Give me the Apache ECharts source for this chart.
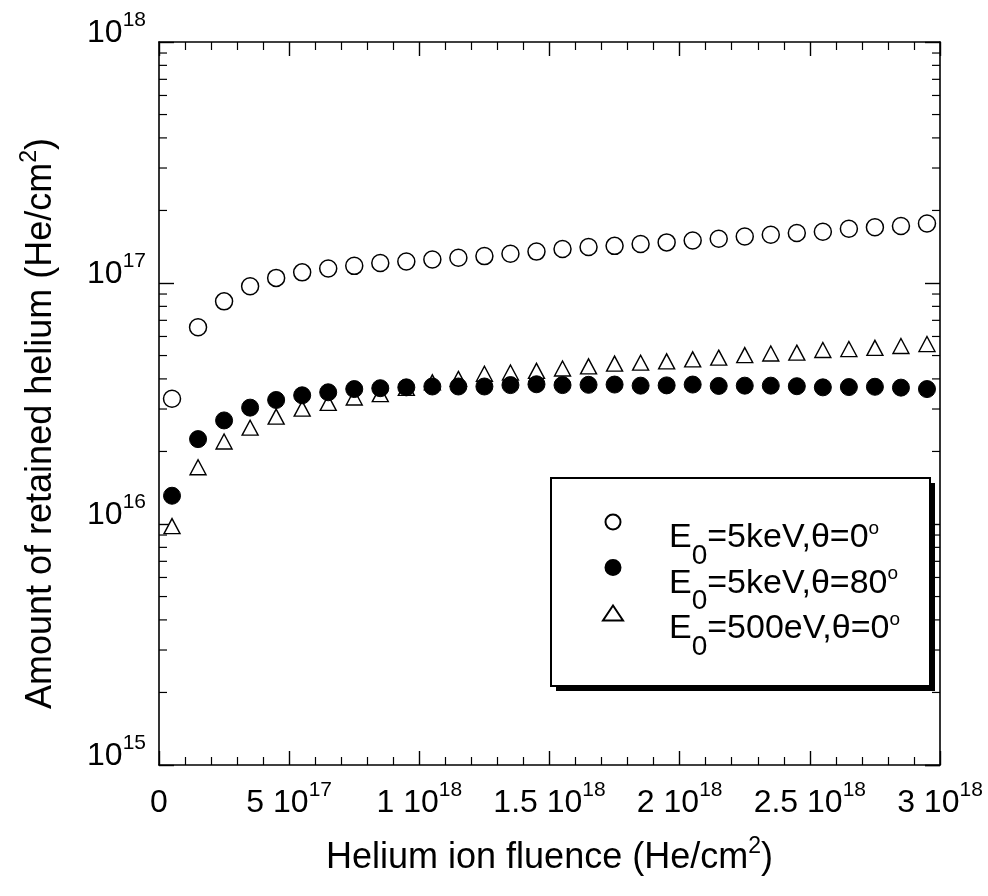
<!DOCTYPE html>
<html><head><meta charset="utf-8">
<script src="https://cdn.jsdelivr.net/npm/echarts@6/dist/echarts.min.js"></script>
<style>html,body{margin:0;padding:0;background:#fff}#c{width:988px;height:896px}</style>
</head><body><div id="c"></div>
<script>
// ---- data ----
const fluence = [5e16, 1.5e17, 2.5e17, 3.5e17, 4.5e17, 5.5e17, 6.5e17, 7.5e17, 8.5e17, 9.5e17,
  1.05e18, 1.15e18, 1.25e18, 1.35e18, 1.45e18, 1.55e18, 1.65e18, 1.75e18, 1.85e18, 1.95e18,
  2.05e18, 2.15e18, 2.25e18, 2.35e18, 2.45e18, 2.55e18, 2.65e18, 2.75e18, 2.85e18, 2.95e18];
const retained5keV0 = [3.31e16, 6.55e16, 8.39e16, 9.70e16, 1.05e17, 1.107e17, 1.149e17, 1.178e17, 1.21e17, 1.228e17,
  1.252e17, 1.273e17, 1.293e17, 1.322e17, 1.35e17, 1.383e17, 1.41e17, 1.426e17, 1.452e17, 1.474e17,
  1.50e17, 1.527e17, 1.56e17, 1.585e17, 1.613e17, 1.633e17, 1.678e17, 1.703e17, 1.724e17, 1.767e17];
const retained5keV80 = [1.31e16, 2.25e16, 2.69e16, 3.04e16, 3.27e16, 3.42e16, 3.52e16, 3.63e16, 3.66e16, 3.69e16,
  3.72e16, 3.72e16, 3.72e16, 3.77e16, 3.80e16, 3.77e16, 3.78e16, 3.79e16, 3.75e16, 3.76e16,
  3.79e16, 3.74e16, 3.75e16, 3.75e16, 3.73e16, 3.69e16, 3.70e16, 3.71e16, 3.68e16, 3.63e16];
const retained500eV0 = [0.98e16, 1.72e16, 2.20e16, 2.51e16, 2.79e16, 3.01e16, 3.18e16, 3.35e16, 3.46e16, 3.67e16,
  3.87e16, 4.00e16, 4.20e16, 4.25e16, 4.32e16, 4.42e16, 4.51e16, 4.63e16, 4.67e16, 4.73e16,
  4.82e16, 4.90e16, 5.02e16, 5.10e16, 5.14e16, 5.27e16, 5.32e16, 5.38e16, 5.48e16, 5.58e16];

const seriesNames = ['E0=5keV,θ=0°', 'E0=5keV,θ=80°', 'E0=500eV,θ=0°'];
const legendMain = ['=5keV,θ=0', '=5keV,θ=80', '=500eV,θ=0'];

const xTickValues = [0, 5e17, 1e18, 1.5e18, 2e18, 2.5e18, 3e18];
const xTickMantissa = ['0', '5 10', '1 10', '1.5 10', '2 10', '2.5 10', '3 10'];
const xTickExponent = ['', '17', '18', '18', '18', '18', '18'];
const yTickValues = [1e15, 1e16, 1e17, 1e18];
const yTickMantissa = ['10', '10', '10', '10'];
const yTickExponent = ['15', '16', '17', '18'];
// logarithmic minor ticks of the y axis (2..9 x 10^n)
const yMinorTicks = [2e15, 3e15, 4e15, 5e15, 6e15, 7e15, 8e15, 9e15,
  2e16, 3e16, 4e16, 5e16, 6e16, 7e16, 8e16, 9e16,
  2e17, 3e17, 4e17, 5e17, 6e17, 7e17, 8e17, 9e17];

const xName = 'Helium ion fluence (He/cm{s|2})';
const yName = 'Amount of retained helium (He/cm{s|2})';

// ---- helpers ----
const FONT = '"Liberation Sans", Arial, sans-serif';
function findIdx(arr, v) { return arr.findIndex(t => Math.abs(t - v) <= Math.abs(t) * 1e-6 + 1e-9); }
function pair(x, y) { return x.map((v, i) => [v, y[i]]); }

const chart = echarts.init(document.getElementById('c'), null, { renderer: 'canvas' });

const xLabel = {
  show: true, margin: 8, color: '#000', fontFamily: FONT,
  showMinLabel: true, showMaxLabel: true,
  formatter: v => { const i = findIdx(xTickValues, v); if (i < 0) return '';
    return xTickExponent[i] ? `{n|${xTickMantissa[i]}}{s|${xTickExponent[i]}}` : `{n|${xTickMantissa[i]}}`; },
  rich: {
    n: { fontSize: 32, fontFamily: FONT, color: '#000', padding: [14, 0, 0, 0] },
    s: { fontSize: 21, fontFamily: FONT, color: '#000', padding: [7, 0, 18, 0] }
  }
};
const yLabel = {
  show: true, margin: 13, color: '#000', fontFamily: FONT,
  showMinLabel: true, showMaxLabel: true,
  formatter: v => { const i = findIdx(yTickValues, v); if (i < 0) return '';
    return `{n|${yTickMantissa[i]}}{s|${yTickExponent[i]}}`; },
  rich: {
    n: { fontSize: 32, fontFamily: FONT, color: '#000', padding: [7, 0, 25, 0] },
    s: { fontSize: 21, fontFamily: FONT, color: '#000', padding: [0, 0, 43, 0] }
  }
};
const nameRich = {
  s: { fontSize: 23, fontFamily: FONT, color: '#000', padding: [0, 0, 24, 0] }
};
const axisLine = { show: true, onZero: false, lineStyle: { color: '#000', width: 1.6 } };

const xCommon = {
  type: 'value', min: 0, max: 3e18, interval: 5e17,
  axisLine, splitLine: { show: false },
  axisTick: { show: true, inside: true, length: 14, lineStyle: { color: '#000', width: 1.4 } },
  minorTick: { show: true, splitNumber: 5, length: 8, lineStyle: { color: '#000', width: 1.2 } },
  minorSplitLine: { show: false }
};
const yCommon = {
  type: 'log', logBase: 10, min: 1e15, max: 1e18,
  axisLine, splitLine: { show: false },
  axisTick: { show: true, inside: true, length: 15, lineStyle: { color: '#000', width: 1.4 } },
  minorTick: { show: false },
  minorSplitLine: { show: false }
};

const legendTok = (extra) => Object.assign({ fontFamily: FONT, color: '#000', lineHeight: 96 }, extra);

const option = {
  backgroundColor: '#fff',
  animation: false,
  grid: { left: 159, right: 48, top: 42, bottom: 131, containLabel: false },
  xAxis: [
    Object.assign({}, xCommon, {
      position: 'bottom', axisLabel: xLabel,
      name: xName, nameLocation: 'middle', nameGap: 70,
      nameTextStyle: { fontSize: 36, fontFamily: FONT, color: '#000', rich: nameRich }
    }),
    Object.assign({}, xCommon, { position: 'top', axisLabel: { show: false } })
  ],
  yAxis: [
    Object.assign({}, yCommon, {
      position: 'left', axisLabel: yLabel,
      name: yName, nameLocation: 'middle', nameGap: 94,
      nameTextStyle: { fontSize: 36, fontFamily: FONT, color: '#000', rich: nameRich, padding: [0, 40, 0, 0] }
    }),
    Object.assign({}, yCommon, { position: 'right', axisLabel: { show: false } })
  ],
  legend: {
    show: true, orient: 'vertical', left: 602, top: 474, padding: 0,
    itemWidth: 20, itemHeight: 15, itemGap: -50.5,
    data: seriesNames, selectedMode: false,
    formatter: name => { const i = seriesNames.indexOf(name);
      return `{e0|E}{sb|0}{e|${legendMain[i]}}{sp|o}`; },
    textStyle: {
      color: '#000', fontFamily: FONT, lineHeight: 96,
      rich: {
        e0: legendTok({ fontSize: 34, padding: [47, 0, 15, 41] }),
        e: legendTok({ fontSize: 34, padding: [47, 0, 15, 0] }),
        sb: legendTok({ fontSize: 28, padding: [68, 0, 0, 0] }),
        sp: legendTok({ fontSize: 19, padding: [45, 0, 32, 0] })
      }
    }
  },
  graphic: [
    { type: 'rect', z: 3, silent: true,
      shape: { x: 556, y: 483, width: 379, height: 208 },
      style: { fill: '#000', stroke: null } },
    { type: 'rect', z: 3, silent: true,
      shape: { x: 551, y: 478, width: 379, height: 208 },
      style: { fill: '#fff', stroke: '#000', lineWidth: 2 } }
  ],
  series: [
    {
      name: 'yMinorTicks', type: 'custom', z: 1, silent: true,
      data: yMinorTicks.map(v => [0, v]),
      encode: { x: 0, y: 1 },
      renderItem: (params, api) => {
        const cs = params.coordSys;
        const y = api.coord([0, api.value(1)])[1];
        const st = { stroke: '#000', lineWidth: 1.2 };
        return { type: 'group', children: [
          { type: 'line', shape: { x1: cs.x, y1: y, x2: cs.x + 8, y2: y }, style: st },
          { type: 'line', shape: { x1: cs.x + cs.width - 8, y1: y, x2: cs.x + cs.width, y2: y }, style: st }
        ] };
      }
    },
    {
      name: seriesNames[0], type: 'scatter', z: 2,
      data: pair(fluence, retained5keV0),
      symbol: 'circle', symbolSize: 17,
      itemStyle: { color: '#fff', borderColor: '#000', borderWidth: 1.5, opacity: 1 },
      emphasis: { disabled: true }
    },
    {
      name: seriesNames[2], type: 'scatter', z: 2,
      data: pair(fluence, retained500eV0),
      symbol: 'triangle', symbolSize: [16, 15],
      itemStyle: { color: '#fff', borderColor: '#000', borderWidth: 1.4, opacity: 1 },
      emphasis: { disabled: true }
    },
    {
      name: seriesNames[1], type: 'scatter', z: 2,
      data: pair(fluence, retained5keV80),
      symbol: 'circle', symbolSize: 17,
      itemStyle: { color: '#000', borderColor: '#000', borderWidth: 1, opacity: 1 },
      emphasis: { disabled: true }
    }
  ]
};
chart.setOption(option);
</script>
</body></html>
